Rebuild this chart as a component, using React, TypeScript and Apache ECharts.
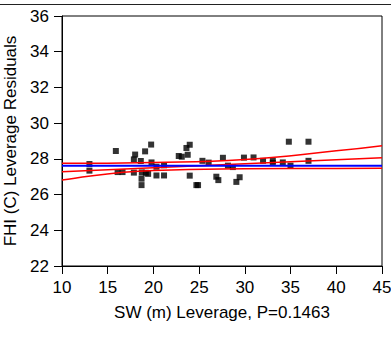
import React, { useEffect, useRef } from "react";
import * as echarts from "echarts";

const xTicks = [10, 15, 20, 25, 30, 35, 40, 45];
const yTicks = [22, 24, 26, 28, 30, 32, 34, 36];

const pointsX = [
  13.0, 13.0, 15.89, 16.08, 16.62, 17.86, 18.0, 17.86, 18.62, 18.73, 18.7, 18.7,
  19.09, 19.75, 19.79, 19.17, 19.42, 20.33, 20.33, 21.16, 21.16, 22.77, 23.1, 23.61,
  23.97, 23.75, 23.97, 24.7, 24.88, 25.36, 26.04, 26.88, 27.1, 27.6, 28.15, 28.69,
  29.07, 29.43, 29.9, 30.95, 31.99, 33.06, 33.06, 34.15, 34.99, 34.81, 36.96, 36.96,
];
const pointsY = [
  27.71, 27.34, 28.44, 27.26, 27.26, 27.97, 28.24, 27.23, 27.88, 27.24, 26.89, 26.53,
  28.42, 28.8, 27.8, 27.22, 27.16, 27.56, 27.07, 27.64, 27.07, 28.16, 28.12, 28.61,
  28.79, 28.23, 27.06, 26.53, 26.53, 27.89, 27.79, 27.0, 26.81, 28.06, 27.62, 27.54,
  26.71, 26.97, 28.07, 28.08, 27.89, 27.89, 27.77, 27.8, 27.62, 28.96, 28.96, 27.89,
];

const meanY = 27.61;
const fitX = [10, 45];
const fitY = [27.28, 28.06];
const bandX = [10, 20, 30, 40, 45];
const upperY = [27.75, 27.8, 27.97, 28.45, 28.74];
const lowerY = [26.81, 27.35, 27.44, 27.46, 27.47];

const xName = "SW (m) Leverage, P=0.1463";
const yName = "FHI (C) Leverage Residuals";

const FONT = "'Liberation Sans', Arial, sans-serif";
const FS = 17;

export default function App() {
  const ref = useRef<HTMLDivElement>(null);
  useEffect(() => {
    if (!ref.current) return;
    const chart = echarts.init(ref.current, undefined, { renderer: "svg" });
    const zip = (xs: number[], ys: number[]) => xs.map((x, i) => [x, ys[i]]);
    chart.setOption({
      animation: false,
      textStyle: { fontFamily: FONT },
      grid: {
        left: 62,
        right: 9,
        top: 16,
        bottom: 71,
        containLabel: false,
        outerBoundsMode: "none",
        show: true,
        borderColor: "#000",
        borderWidth: 1,
        backgroundColor: "transparent",
      },
      xAxis: {
        type: "value",
        min: xTicks[0],
        max: xTicks[xTicks.length - 1],
        interval: 5,
        name: xName,
        nameLocation: "middle",
        nameGap: 38,
        nameTextStyle: { fontSize: FS, color: "#000", fontFamily: FONT },
        axisLine: { lineStyle: { color: "#000", width: 1 } },
        axisTick: { length: 8, lineStyle: { color: "#000" } },
        axisLabel: { fontSize: FS, color: "#000", margin: 13, fontFamily: FONT },
        splitLine: { show: false },
      },
      yAxis: {
        type: "value",
        min: yTicks[0],
        max: yTicks[yTicks.length - 1],
        interval: 2,
        name: yName,
        nameLocation: "middle",
        nameGap: 34,
        nameTextStyle: { fontSize: FS, color: "#000", fontFamily: FONT },
        axisLine: { lineStyle: { color: "#000", width: 1 } },
        axisTick: { length: 8, lineStyle: { color: "#000" } },
        axisLabel: { fontSize: FS, color: "#000", margin: 13, fontFamily: FONT },
        splitLine: { show: false },
      },
      series: [
        {
          type: "line",
          data: zip(bandX, upperY),
          smooth: true,
          symbol: "none",
          lineStyle: { color: "#ff0000", width: 1.5 },
        },
        {
          type: "line",
          data: zip(bandX, lowerY),
          smooth: true,
          symbol: "none",
          lineStyle: { color: "#ff0000", width: 1.5 },
        },
        {
          type: "line",
          data: zip(fitX, fitY),
          symbol: "none",
          lineStyle: { color: "#ff0000", width: 1.5 },
        },
        {
          type: "line",
          data: [
            [fitX[0], meanY],
            [fitX[1], meanY],
          ],
          symbol: "none",
          lineStyle: { color: "#0000ff", width: 2 },
        },
        {
          type: "scatter",
          data: zip(pointsX, pointsY),
          symbol: "rect",
          symbolSize: 6,
          itemStyle: { color: "#000" },
        },
      ],
    });
    return () => chart.dispose();
  }, []);
  return (
    <div style={{ position: "fixed", left: 0, top: 0, width: 391, height: 337, background: "#fff" }}>
      <div ref={ref} style={{ position: "absolute", left: 0, top: 0, width: 391, height: 337 }} />
      <div
        style={{
          position: "absolute",
          left: 0,
          top: 4,
          width: 391,
          height: 1,
          background: "#222",
        }}
      />
    </div>
  );
}
